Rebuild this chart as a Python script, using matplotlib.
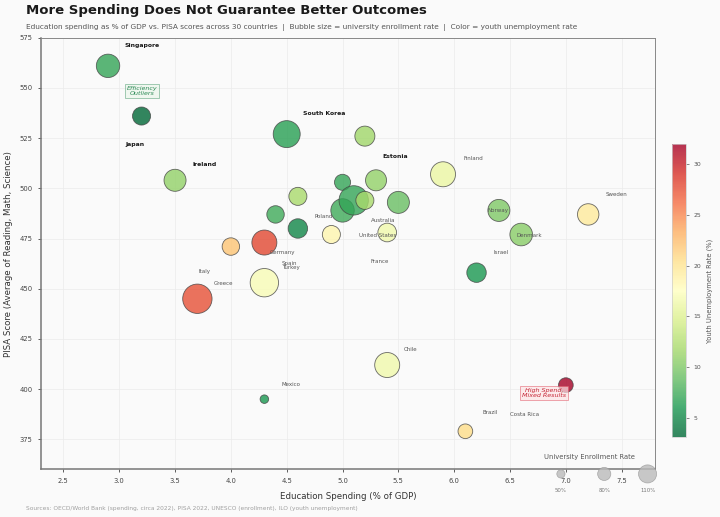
import numpy as np
import matplotlib.pyplot as plt
from matplotlib.colors import Normalize

# bubble data: spending (% GDP), PISA avg, tertiary enrollment (%), youth unemployment (%)
countries = ["Singapore", "Japan", "Ireland", "South Korea", "Canada", "Switzerland",
             "Estonia", "Netherlands", "Austria", "Czechia", "Belgium", "United Kingdom",
             "New Zealand", "Slovenia", "Poland", "United States", "Germany", "Hungary",
             "Turkey", "Greece", "Mexico", "Chile", "Brazil", "Costa Rica", "Finland",
             "Norway", "Denmark", "Israel", "Sweden"]
spending = [2.9, 3.2, 3.5, 4.5, 5.2, 5.0, 5.3, 4.6, 4.4, 4.6, 5.0, 5.1, 5.2, 5.5,
            4.9, 5.4, 4.3, 4.0, 4.3, 3.7, 4.3, 5.4, 6.1, 7.0, 5.9, 6.4, 6.6, 6.2, 7.2]
pisa = [561, 536, 504, 527, 526, 503, 504, 496, 487, 480, 489, 494, 494, 493,
        477, 478, 473, 471, 453, 445, 395, 412, 379, 402, 507, 489, 477, 458, 487]
enrollment = [118, 91, 111, 136, 101, 81, 106, 91, 88, 98, 118, 148, 91, 111,
              91, 94, 126, 88, 143, 148, 43, 126, 74, 74, 126, 111, 114, 98, 108]
youth_unemp = [7.0, 3.1, 11.0, 6.5, 11.5, 7.0, 11.0, 12.0, 7.5, 5.0, 7.5, 7.0, 12.0, 9.0,
               18.5, 16.5, 28.0, 22.0, 17.0, 27.5, 6.0, 16.5, 20.5, 32.0, 16.0, 10.0,
               10.5, 6.0, 19.5]

# country labels (final positions after de-overlapping)
label_names = ["Singapore", "Japan", "Ireland", "South Korea", "Estonia", "Finland",
               "Sweden", "Norway", "Denmark", "Poland", "Australia", "United States",
               "France", "Israel", "Germany", "Spain", "Turkey", "Italy", "Greece",
               "Chile", "Mexico", "Brazil", "Costa Rica"]
label_x = [3.05, 3.055, 3.654, 4.65, 5.353, 6.084, 7.354, 6.301, 6.555, 4.751, 5.252,
           5.151, 5.252, 6.355, 4.349, 4.453, 4.459, 3.708, 3.851, 5.55, 4.453, 6.251, 6.502]
label_y = [571.2, 521.9, 512.1, 537.2, 515.9, 514.9, 496.8, 488.9, 476.7, 485.9, 483.9,
           476.7, 463.8, 467.8, 467.8, 462.8, 460.8, 458.6, 452.8, 419.7, 402.5, 388.6, 387.6]
bold_labels = ["Singapore", "Japan", "Ireland", "South Korea", "Estonia"]

legend_pct = [50, 80, 110]
legend_x = [0.8465, 0.917, 0.9876]

xticks = [2.5, 3.0, 3.5, 4.0, 4.5, 5.0, 5.5, 6.0, 6.5, 7.0, 7.5]
yticks = [375, 400, 425, 450, 475, 500, 525, 550, 575]

fig = plt.figure(figsize=(7.2, 5.17), dpi=100, facecolor='#fafafa')
ax = fig.add_axes([0.057, 0.092, 0.853, 0.835], facecolor='#fafafa')

norm = Normalize(min(youth_unemp), max(youth_unemp))
sizes = [204 * (e / 100) ** 2 for e in enrollment]
sc = ax.scatter(spending, pisa, s=sizes, c=youth_unemp, cmap='RdYlGn_r', norm=norm,
                alpha=0.8, edgecolors='#444444', linewidths=0.6, zorder=3)

for name, lx, ly in zip(label_names, label_x, label_y):
    if name in bold_labels:
        ax.text(lx, ly, name, fontsize=4.4, fontweight='bold', color='#1a1a1a',
                ha='left', va='center', zorder=5)
    else:
        ax.text(lx, ly, name, fontsize=4.0, color='#555555',
                ha='left', va='center', zorder=5)

ax.text(3.202, 548.4, "Efficiency\nOutliers", fontsize=4.6, style='italic', color='#2e8b57',
        ha='center', va='center', linespacing=1.0, zorder=6,
        bbox=dict(boxstyle='square,pad=0.3', fc='#e8f5e9', ec='#2e8b57', lw=0.5, alpha=0.6))
ax.text(6.802, 398.2, "High Spend,\nMixed Results", fontsize=4.6, style='italic', color='#c62838',
        ha='center', va='center', linespacing=1.0, zorder=6,
        bbox=dict(boxstyle='square,pad=0.3', fc='#fde4e6', ec='#e05060', lw=0.5, alpha=0.7))

ax.set_xlim(2.3, 7.8)
ax.set_ylim(360, 575)
ax.set_xticks(xticks)
ax.set_yticks(yticks)
ax.tick_params(labelsize=4.9, colors='#444444', length=2.5, width=0.6)
ax.grid(True, color='#ebebeb', lw=0.5, zorder=0)
ax.set_axisbelow(True)
for side in ['top', 'right']:
    ax.spines[side].set_color('#888888')
    ax.spines[side].set_linewidth(0.7)
for side in ['left', 'bottom']:
    ax.spines[side].set_color('#777777')
    ax.spines[side].set_linewidth(1.1)

ax.set_xlabel("Education Spending (% of GDP)", fontsize=6.2, color='#333333', labelpad=6)
ax.set_ylabel("PISA Score (Average of Reading, Math, Science)", fontsize=6.2,
              color='#333333', labelpad=5)

# enrollment size legend
ax.text(0.8935, 0.029, "University Enrollment Rate", transform=ax.transAxes, fontsize=4.9,
        color='#555555', ha='center', va='center')
ax.scatter(legend_x, [-0.0104] * 3, s=[140 * (p / 100) ** 2 for p in legend_pct],
           c='#bbbbbb', alpha=0.8, edgecolors='#999999', linewidths=0.5,
           transform=ax.transAxes, clip_on=False, zorder=4)
for lx, p in zip(legend_x, legend_pct):
    ax.text(lx, -0.0498, f"{p}%", transform=ax.transAxes, fontsize=3.9, color='#777777',
            ha='center', va='center')

cax = fig.add_axes([0.933, 0.155, 0.0194, 0.566])
cb = fig.colorbar(sc, cax=cax)
cb.ax.tick_params(labelsize=4.4, colors='#555555', length=2, width=0.5)
cb.outline.set_edgecolor('#cccccc')
cb.outline.set_linewidth(0.5)
cb.set_label("Youth Unemployment Rate (%)", fontsize=4.9, color='#555555', labelpad=4)

fig.text(0.036, 0.979, "More Spending Does Not Guarantee Better Outcomes", fontsize=9.5,
         fontweight='bold', color='#1a1a1a', ha='left', va='center')
fig.text(0.036, 0.946, "Education spending as % of GDP vs. PISA scores across 30 countries  |  "
         "Bubble size = university enrollment rate  |  Color = youth unemployment rate",
         fontsize=5.3, color='#555555', ha='left', va='center')
fig.text(0.036, 0.017, "Sources: OECD/World Bank (spending, circa 2022), PISA 2022, "
         "UNESCO (enrollment), ILO (youth unemployment)", fontsize=4.2, color='#a0a0a0',
         ha='left', va='center')

fig.savefig("out.png", dpi=100, facecolor=fig.get_facecolor())
